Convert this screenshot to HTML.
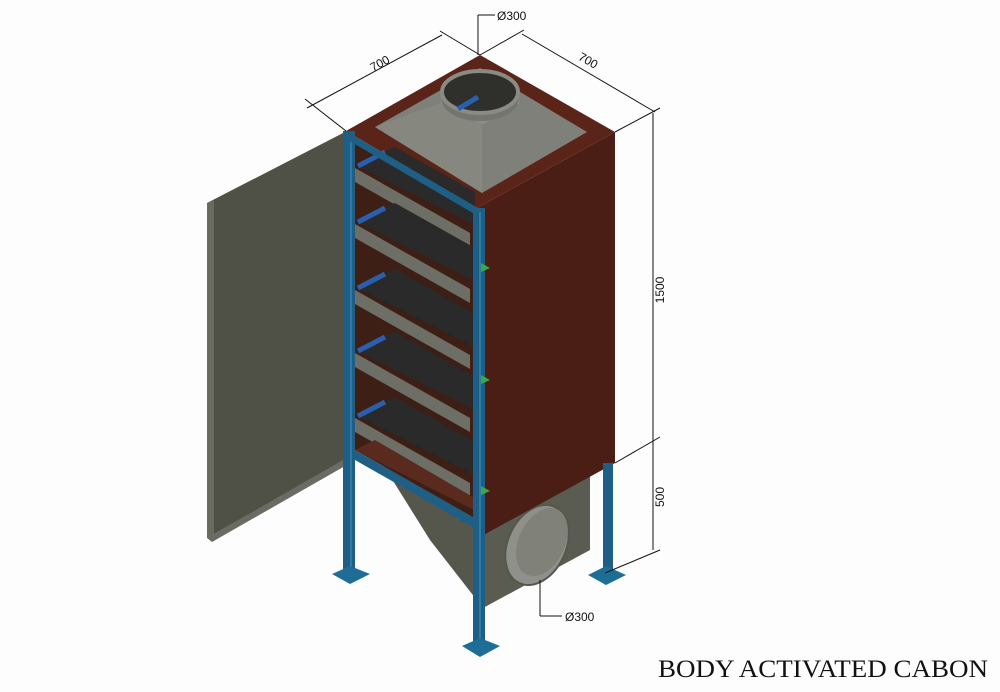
<!DOCTYPE html>
<html><head><meta charset="utf-8"><style>
html,body{margin:0;padding:0;background:#fff;}
svg{display:block}
</style></head><body>
<svg width="1000" height="692" viewBox="0 0 1000 692" xmlns="http://www.w3.org/2000/svg">
<rect width="1000" height="692" fill="#fdfdfe"/>
<!-- door -->
<polygon points="207,203 345,132 345,460 207,538" fill="#4f5046"/>
<polygon points="207,203 214,200 214,534 207,538" fill="#6a6b60"/>
<polygon points="207,538 343,460 345,466 212,542" fill="#6a6b62"/>
<!-- hopper -->
<polygon points="380,460 478,520 483,608 430,540" fill="#55564c"/>
<polygon points="478,538 590,470 590,550 483,608" fill="#5a5b51"/>
<ellipse cx="537" cy="545" rx="29" ry="42" transform="rotate(25 537 545)" fill="#8f908a" stroke="#55564c" stroke-width="2"/>
<ellipse cx="542" cy="542" rx="23" ry="36" transform="rotate(25 542 542)" fill="#808179"/>
<!-- interior back (brown) -->
<polygon points="355,140 478,215 478,520 355,450" fill="#3d1f16"/>
<!-- right face -->
<polygon points="477,208 615,132 615,463 478,538" fill="#4a1e15"/>
<!-- top face -->
<polygon points="346,131 480,55 615,132 477,208" fill="#5a2418"/>
<polygon points="375,127 480,68 587,132 482,193" fill="#7f807a"/>
<polygon points="440,103 480,82 520,103 482,125" fill="#8c8d86"/>
<polygon points="375,127 440,103 482,125 482,193" fill="#86877f"/>
<ellipse cx="480" cy="100" rx="38" ry="21" fill="#74756e"/>
<ellipse cx="480" cy="92" rx="38" ry="21" fill="#2f2f2c" stroke="#8a8b84" stroke-width="4"/>
<line x1="458" y1="109" x2="478" y2="97" stroke="#2a5fb0" stroke-width="5"/>
<!-- trays -->
<g>
<g id="tray">
<polygon points="355,165 395,147 475,192 475,225" fill="#2a2a2a"/>
<polygon points="355,168 470,233 470,247 355,182" fill="#6d6e66"/>
<line x1="358" y1="166" x2="385" y2="152" stroke="#2a5fb0" stroke-width="5"/>
</g>
<use href="#tray" y="56"/>
<use href="#tray" y="122"/>
<use href="#tray" y="185"/>
<use href="#tray" y="250"/>
</g>
<!-- bottom frame -->
<polygon points="355,450 478,520 478,530 355,460" fill="#1f5e85"/>
<polygon points="355,450 375,440 478,500 478,512" fill="#5a2a1e"/>
<!-- posts -->
<rect x="343" y="131" width="12" height="445" fill="#1f5e85"/>
<rect x="473" y="208" width="12" height="440" fill="#1f5e85"/>
<rect x="350" y="138" width="2" height="438" fill="#2f7ba8"/>
<rect x="479" y="212" width="2" height="436" fill="#2f7ba8"/>
<rect x="603" y="463" width="10" height="113" fill="#1f5e85"/>
<polygon points="346,131 478,208 478,216 346,139" fill="#1f5e85"/>
<polygon points="332,574 350,566 370,574 350,584" fill="#1e6d96"/>
<polygon points="462,646 480,638 500,646 480,657" fill="#1e6d96"/>
<polygon points="588,575 606,566 626,575 606,585" fill="#1e6d96"/>
<g fill="#39a845"><polygon points="481,263 490,268 481,272"/><polygon points="481,375 490,380 481,384"/><polygon points="481,486 490,491 481,495"/></g>
<!-- dimensions -->
<g stroke="#111" stroke-width="1" fill="none">
<line x1="307" y1="108" x2="442" y2="35"/>
<line x1="305" y1="99" x2="346" y2="131"/>
<line x1="440" y1="31" x2="480" y2="55"/>
<line x1="522" y1="34" x2="655" y2="112"/>
<line x1="480" y1="55" x2="524" y2="30"/>
<line x1="615" y1="132" x2="660" y2="108"/>
<line x1="653" y1="113" x2="653" y2="550"/>
<line x1="615" y1="463" x2="660" y2="437"/>
<line x1="605" y1="573" x2="660" y2="550"/>
<line x1="478" y1="55" x2="478" y2="15"/>
<line x1="478" y1="15" x2="495" y2="15"/>
<line x1="540" y1="580" x2="540" y2="616"/>
<line x1="540" y1="616" x2="562" y2="616"/>
</g>
<g font-family="Liberation Sans, sans-serif" font-size="12" fill="#111">
<text x="370" y="70" transform="rotate(-29 375 65)">700</text>
<text x="578" y="63" transform="rotate(30 585 60)">700</text>
<text x="664" y="290" transform="rotate(-90 664 290)" text-anchor="middle">1500</text>
<text x="664" y="497" transform="rotate(-90 664 497)" text-anchor="middle">500</text>
<text x="497" y="20">Ø300</text>
<text x="565" y="621">Ø300</text>
</g>
<text x="658" y="677" font-family="Liberation Serif, serif" font-size="25" textLength="330" lengthAdjust="spacingAndGlyphs" fill="#111">BODY ACTIVATED CABON</text>
</svg>
</body></html>
